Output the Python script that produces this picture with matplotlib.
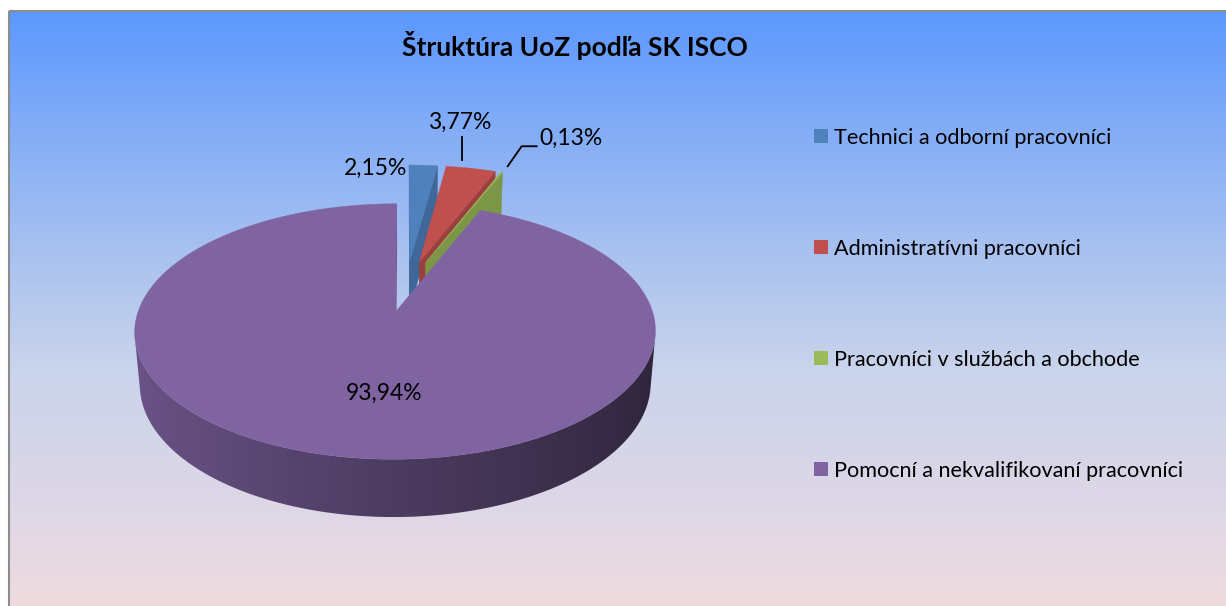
import numpy as np
import matplotlib.pyplot as plt
from matplotlib.patches import Polygon, Patch, Rectangle
from matplotlib.colors import LinearSegmentedColormap, to_rgb

# data
categories = ['Technici a odborní pracovníci', 'Administratívni pracovníci',
              'Pracovníci v službách a obchode', 'Pomocní a nekvalifikovaní pracovníci']
shares = [2.15, 3.77, 0.13, 93.94]
value_labels = ['2,15%', '3,77%', '0,13%', '93,94%']
colors = ['#4F81BD', '#C0504D', '#9BBB59', '#8064A2']
title = 'Štruktúra UoZ podľa SK ISCO'

W, H = 1226, 606
FONT = 'Lato'

# 3d pie camera (pixel space)
CX, CY = 406, 286
FOCAL = 1495
DIST = 6.0
ELEV = np.radians(28)
DEPTH = 0.235
EXPLODE = 0.22
s_el, c_el = np.sin(ELEV), np.cos(ELEV)
cam = np.array([0.0, -DIST * c_el, DIST * s_el])


def project(u, v, h):
    u, v, h = np.broadcast_arrays(np.asarray(u, float), np.asarray(v, float), np.asarray(h, float))
    yc = v * s_el + h * c_el
    zc = DIST + v * c_el - h * s_el
    return np.column_stack([CX + FOCAL * u / zc, CY - FOCAL * yc / zc])


def facing(normal, point):
    return np.dot(normal, cam - np.asarray(point)) > 0


def shade(color, f):
    return np.clip(np.array(to_rgb(color)) * f, 0, 1)


fig = plt.figure(figsize=(W / 100, H / 100), dpi=100)
ax = fig.add_axes([0, 0, 1, 1])
ax.set_xlim(0, W)
ax.set_ylim(H, 0)
ax.axis('off')

# background gradient
bg = LinearSegmentedColormap.from_list('bg', [
    (0.0, (91/255, 152/255, 254/255)),
    (0.15, (122/255, 168/255, 248/255)),
    (0.4, (168/255, 193/255, 240/255)),
    (0.6, (202/255, 212/255, 235/255)),
    (0.83, (222/255, 215/255, 230/255)),
    (1.0, (240/255, 219/255, 222/255))])
grad = np.linspace(0, 1, 256).reshape(-1, 1)
ax.imshow(grad, cmap=bg, aspect='auto', extent=(9, W + 5, H + 5, 11), zorder=0)
ax.add_patch(Rectangle((9, 11), W, H, fill=False, edgecolor='#8C8C8C', lw=1.5, zorder=1))

# slices, clockwise from 12 o'clock
ends = np.cumsum(shares) / np.sum(shares) * 2 * np.pi
starts = np.concatenate([[0], ends[:-1]])
rim_mid = []
for i, (t0, t1) in enumerate(zip(starts, ends)):
    tm = (t0 + t1) / 2
    ou, ov = EXPLODE * np.sin(tm), EXPLODE * np.cos(tm)
    n = max(3, int(np.degrees(t1 - t0) * 2))
    ts = np.linspace(t0, t1, n)
    ru, rv = ou + np.sin(ts), ov + np.cos(ts)
    col = colors[i]

    # outer wall: one clipped gradient per slice
    vis = [k for k in range(n) if facing(np.array([np.sin(ts[k]), np.cos(ts[k]), 0]),
                                         [ru[k], rv[k], -DEPTH / 2])]
    if len(vis) > 1:
        vis = np.array(vis)
        up = project(ru[vis], rv[vis], 0)
        lo = project(ru[vis], rv[vis], -DEPTH)
        wall = Polygon(np.vstack([up, lo[::-1]]), closed=True, fc='none', ec='none')
        ax.add_patch(wall)
        xs = np.linspace(min(up[:, 0].min(), lo[:, 0].min()), max(up[:, 0].max(), lo[:, 0].max()), 400)
        order = np.argsort(lo[:, 0])
        fac = np.interp(xs, lo[order, 0], 0.6 - 0.23 * np.sin(ts[vis])[order])
        strip = np.array([shade(col, f) for f in fac])[None, :, :]
        ys = np.vstack([up, lo])[:, 1]
        im = ax.imshow(strip, aspect='auto', interpolation='bilinear',
                       extent=(xs[0], xs[-1], ys.max() + 1, ys.min() - 1), zorder=2)
        im.set_clip_path(wall)

    # radial walls
    for t, nrm in [(t0, np.array([-np.cos(t0), np.sin(t0), 0])),
                   (t1, np.array([np.cos(t1), -np.sin(t1), 0]))]:
        p = [ou + 0.5 * np.sin(t), ov + 0.5 * np.cos(t), -DEPTH / 2]
        if not facing(nrm, p):
            continue
        eu, ev = ou + np.sin(t), ov + np.cos(t)
        quad = project([ou, eu, eu, ou], [ov, ev, ev, ov], [0, 0, -DEPTH, -DEPTH])
        fc = shade(col, 0.8)
        ax.add_patch(Polygon(quad, closed=True, fc=fc, ec=fc, lw=0.3, zorder=2))

    # top face
    top = project(np.concatenate([[ou], ru]), np.concatenate([[ov], rv]), 0)
    ax.add_patch(Polygon(top, closed=True, fc=col, ec=col, lw=0.3, zorder=2))

    rim_mid.append(project(ou + np.sin(tm), ov + np.cos(tm), 0)[0])
    if i == 3:
        inner = project(ou + 0.2 * np.sin(tm), ov + 0.6 * np.cos(tm), 0)[0]

# data labels
lab_kw = dict(fontsize=16.5, family=FONT, color='black', zorder=5)
x, y = rim_mid[0]
ax.text(x - 16, y + 3, value_labels[0], ha='right', va='center', **lab_kw)
x, y = rim_mid[1]
ax.plot([x - 9, x - 9], [y - 8, y - 31], color='black', lw=1.3, zorder=4)
ax.text(x - 11, y - 46, value_labels[1], ha='center', va='center', **lab_kw)
x, y = rim_mid[2]
ax.plot([x + 6, x + 20, x + 35], [y - 6, y - 26, y - 26], color='black', lw=1.3, zorder=4)
ax.text(x + 38, y - 34, value_labels[2], ha='left', va='center', **lab_kw)
x, y = inner
ax.text(x, y, value_labels[3], ha='center', va='center', **lab_kw)

ax.text(575, 45, title, ha='center', va='center', fontsize=19, fontweight='bold',
        family=FONT, zorder=5)

handles = [Patch(facecolor=c, edgecolor='none') for c in colors]
leg = ax.legend(handles, categories, loc='upper left', bbox_to_anchor=(805 / W, 1 - 119 / H),
                frameon=False, prop={'family': FONT, 'size': 15.6}, labelspacing=4.2,
                handlelength=0.64, handleheight=0.64, handletextpad=0.32, borderaxespad=0)

fig.savefig('out.png', dpi=100)
